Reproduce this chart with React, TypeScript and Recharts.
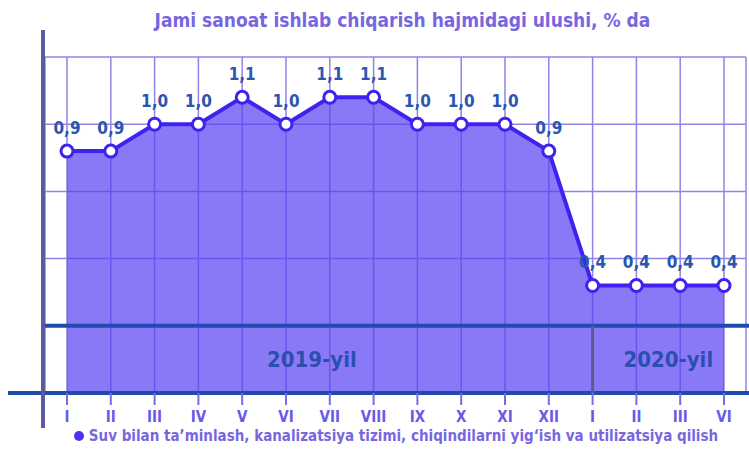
import React from 'react'
import {
  ComposedChart,
  Area,
  XAxis,
  YAxis,
  CartesianGrid,
  ReferenceLine,
  ReferenceArea,
  LabelList,
} from 'recharts'

const months = ['I', 'II', 'III', 'IV', 'V', 'VI', 'VII', 'VIII', 'IX', 'X', 'XI', 'XII', 'I', 'II', 'III', 'VI']
const years = [2019, 2019, 2019, 2019, 2019, 2019, 2019, 2019, 2019, 2019, 2019, 2019, 2020, 2020, 2020, 2020]
const shares = [0.9, 0.9, 1.0, 1.0, 1.1, 1.0, 1.1, 1.1, 1.0, 1.0, 1.0, 0.9, 0.4, 0.4, 0.4, 0.4]
const yTicks = [0, 0.25, 0.5, 0.75, 1, 1.25]
const yearLabels = ['2019-yil', '2020-yil']

const title = 'Jami sanoat ishlab chiqarish hajmidagi ulushi, % da'
const seriesName = 'Suv bilan ta\u2019minlash, kanalizatsiya tizimi, chiqindilarni yig\u2018ish va utilizatsiya qilish'

const data = months.map((m, i) => ({ key: `${years[i]}-${m}`, month: m, share: shares[i] }))

const narrow = "'Liberation Sans Narrow', 'Arial Narrow', 'DejaVu Sans Condensed', sans-serif"

const fmt = (v: number) => v.toFixed(1).replace('.', ',')

// thick band lines, stretched past the plot edges like the original
const bandLine = (extendLeft: number) => (props: any) => (
  <line
    x1={props.x1 - extendLeft}
    y1={props.y1}
    x2={749}
    y2={props.y2}
    stroke="#1b4cae"
    strokeWidth={4}
  />
)

export default function App() {
  return (
    <div style={{ position: 'absolute', left: 0, top: 0, width: 749, height: 470, background: '#fff' }}>
      <div
        style={{
          position: 'absolute',
          top: 9,
          left: 40,
          width: 725,
          textAlign: 'center',
          fontFamily: narrow,
          fontWeight: 700,
          fontSize: 19,
          color: '#7767df',
        }}
      >
        {title}
      </div>

      <ComposedChart
        width={749}
        height={470}
        data={data}
        margin={{ top: 57, right: 3, bottom: 47, left: 45 }}
      >
        <CartesianGrid stroke="#9284e6" strokeWidth={1.5} />
        <XAxis
          dataKey="key"
          tickFormatter={(v: string) => v.split('-')[1]}
          padding={{ left: 22, right: 22 }}
          axisLine={false}
          tickLine={{ stroke: '#7a6ae6', strokeWidth: 2 }}
          tickSize={12}
          tickMargin={6}
          height={30}
          interval={0}
          tick={{ fill: '#6a5ae6', fontSize: 15, fontWeight: 700, fontFamily: narrow }}
        />
        <YAxis hide domain={[0, 1.25]} ticks={yTicks} />
        <Area
          type="linear"
          dataKey="share"
          fill="#5840f4"
          fillOpacity={0.7}
          stroke="#3d22f0"
          strokeWidth={4}
          dot={{ r: 6, fill: '#fff', stroke: '#3d22f0', strokeWidth: 3, fillOpacity: 1 }}
          isAnimationActive={false}
        >
          <LabelList
            dataKey="share"
            position="top"
            offset={17}
            formatter={(v: any) => fmt(Number(v))}
            fill="#2b56b0"
            fontSize={17}
            fontWeight={700}
            fontFamily={narrow}
          />
        </Area>
        <ReferenceLine y={0.25} shape={bandLine(0)} />
        <ReferenceLine y={0} shape={bandLine(37)} />
        <ReferenceLine
          segment={[
            { x: '2020-I', y: 0 },
            { x: '2020-I', y: 0.25 },
          ]}
          stroke="#5a5a94"
          strokeWidth={3}
        />
        <ReferenceArea
          x1="2019-I"
          x2="2019-XII"
          y1={0}
          y2={0.25}
          fillOpacity={0}
          strokeOpacity={0}
          label={{ value: yearLabels[0], position: 'center', fill: '#2a4faf', fontSize: 22, fontWeight: 700, fontFamily: narrow, dx: 4 }}
        />
        <ReferenceArea
          x1="2020-I"
          x2="2020-VI"
          y1={0}
          y2={0.25}
          fillOpacity={0}
          strokeOpacity={0}
          label={{ value: yearLabels[1], position: 'center', fill: '#2a4faf', fontSize: 22, fontWeight: 700, fontFamily: narrow, dx: 10 }}
        />
      </ComposedChart>

      <div style={{ position: 'absolute', left: 41, top: 30, width: 4, height: 398, background: '#5b5b9e' }} />

      <div
        style={{
          position: 'absolute',
          top: 427,
          left: 0,
          width: 792,
          textAlign: 'center',
          fontFamily: narrow,
          fontWeight: 700,
          fontSize: 15,
          color: '#7767df',
          whiteSpace: 'nowrap',
        }}
      >
        <span
          style={{
            display: 'inline-block',
            width: 10,
            height: 10,
            borderRadius: 5,
            background: '#4a33f0',
            marginRight: 5,
          }}
        />
        {seriesName}
      </div>
    </div>
  )
}
